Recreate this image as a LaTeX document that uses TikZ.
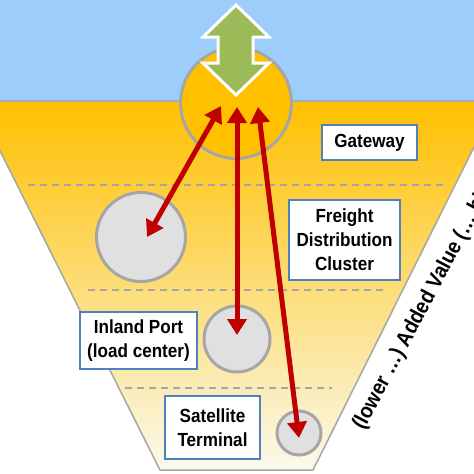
\documentclass[tikz,border=0pt]{standalone}
\usepackage{fontspec}
\setmainfont{Liberation Sans}[FakeStretch=0.9]
\usepackage{tikz}
\usetikzlibrary{positioning,calc,arrows.meta}
\definecolor{skyColor}{RGB}{157,205,250}
\definecolor{gateColor}{RGB}{255,192,0}
\definecolor{midColor}{RGB}{255,236,110}
\definecolor{baseColor}{RGB}{250,249,236}
\definecolor{rimColor}{RGB}{166,166,166}
\definecolor{hubColor}{RGB}{224,224,224}
\definecolor{boxColor}{RGB}{79,129,189}
\definecolor{haulColor}{RGB}{192,0,0}
\definecolor{linkColor}{RGB}{155,187,89}
\tikzset{
    hub/.style={
        circle,
        draw=rimColor,
        line width=3pt,
        fill=hubColor,
        inner sep=0pt
    },
    tag/.style={
        rectangle,
        draw=boxColor,
        line width=2.5pt,
        fill=white,
        font=\bfseries\fontsize{19}{24}\selectfont,
        align=center,
        inner sep=2pt
    },
    haul/.style={
        {Triangle[length=16pt,width=19pt]}-{Triangle[length=16pt,width=19pt]},
        line width=5pt,
        haulColor
    },
    tier/.style={
        draw=rimColor,
        line width=2pt,
        dash pattern=on 7pt off 5pt
    }
}

\begin{document}
\begin{tikzpicture}[x=1pt, y=-1pt]
        \useasboundingbox (0,0) rectangle (474,474);
        \clip (0,0) rectangle (474,474);
        % sea side and funnel
        \fill[skyColor] (0,0) rectangle (474,101);
        \draw[rimColor, line width=1.5pt, top color=gateColor, middle color=midColor, bottom color=baseColor]
            (-25,101) -- (497,101) -- (313,470) -- (160,470) -- cycle;
        \draw[tier] (28,185) -- (443,185);
        \draw[tier] (88,290) -- (387,290);
        \draw[tier] (125,388) -- (332,388);

        \node[hub, fill=gateColor, minimum size=111pt] (gw) at (236,103) {};
        \node[hub, minimum size=89pt] (fdc) at (141,237) {};
        \node[hub, minimum size=66pt] (port) at (237,339) {};
        \node[hub, minimum size=44pt] (sat) at (299,433) {};

        % foreland link
        \draw[fill=linkColor, draw=white, line width=3pt, line join=miter]
            (236,5) -- (269,37) -- (253,37) -- (253,63) -- (269,63) -- (236,95)
            -- (203,63) -- (218,63) -- (218,37) -- (203,37) -- cycle;

        \node[tag, minimum width=95pt, minimum height=35pt] (gwTag) at (369.5,142.5) {Gateway};
        \node[tag, minimum width=111pt, minimum height=80pt] (fdcTag) at (344.5,240) {Freight\\Distribution\\Cluster};
        \node[tag, minimum width=117pt, minimum height=57pt] (portTag) at (138.5,340.5) {Inland Port\\(load center)};
        \node[tag, minimum width=95pt, minimum height=63pt] (satTag) at (212.5,427.5) {Satellite\\Terminal};

        \coordinate (gwW) at (221,106);
        \coordinate (gwS) at (237,107);
        \coordinate (gwE) at (258,107);
        \draw[haul] (gwW) -- ($(fdc)+(6,0)$);
        \draw[haul] (gwS) -- ($(port)+(0,-4)$);
        \draw[haul] (gwE) -- ($(sat)+(0,5)$);

        \node[rotate=62, anchor=base west, font=\bfseries\fontsize{21.5}{24}\selectfont] (value) at (362,434)
            {(lower …) Added Value (… higher)};
    \end{tikzpicture}
\end{document}
